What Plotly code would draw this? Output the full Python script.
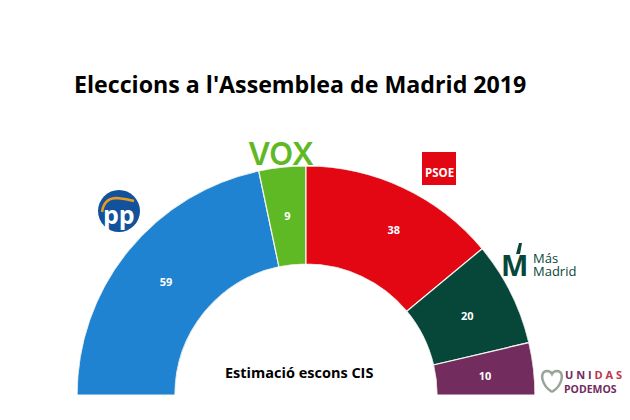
import plotly.graph_objects as go

parties = ["PP", "VOX", "PSOE", "Más Madrid", "Unidas Podemos"]
seats = [59, 9, 38, 20, 10]
colors = ["#1f83d1", "#5fb924", "#e30613", "#07473a", "#722c5e"]
title_text = "Eleccions a l'Assemblea de Madrid 2019"
subtitle_text = "Estimació escons CIS"

# the page keeps an 8px body margin, so the figure sits inside it
PAGE = 8
W = 614
H = 404
total = sum(seats)

widths = [s * 180 / total for s in seats]
mids = []
run = 0
for s in seats:
    mids.append((run + s / 2) * 180 / total)
    run += s

# the numbers are not quite centred in the reference
label_r = [0.49, 0.49, 0.56, 0.49, 0.5]
label_shift = [-0.5, 0, 3, 0.8, 0.9]


def px(x):
    return (x - PAGE) / W


def py(y):
    return 1 - (y - PAGE) / H


def label(x, y, text, size, color, bold=False, font="Open Sans", anchor="center", weight=None):
    if bold:
        text = "<b>" + text + "</b>"
    fig.add_annotation(x=px(x), y=py(y), xref="paper", yref="paper", text=text,
                       showarrow=False, xanchor=anchor, yanchor="middle",
                       borderpad=0, font=dict(size=size, color=color, family=font, weight=weight))


def path(d, fill=None, line=None, width=0):
    # d is a list of pixel points with svg commands in front
    out = ""
    for cmd, x, y in d:
        out += "%s %.4f %.4f " % (cmd, px(x), py(y))
    fig.add_shape(type="path", xref="paper", yref="paper", path=out + ("Z" if fill else ""),
                  fillcolor=fill, line=dict(color=line or "rgba(0,0,0,0)", width=width))


fig = go.Figure()

fig.add_trace(go.Barpolar(r=[1] * len(seats), theta=mids, width=widths,
                          marker=dict(color=colors, line=dict(color="#f4f4ee", width=1.2)),
                          hoverinfo="skip"))
fig.add_trace(go.Scatterpolar(r=label_r, theta=[m + d for m, d in zip(mids, label_shift)], mode="text",
                              text=["<b>%d</b>" % s for s in seats],
                              textfont=dict(size=11, color="white", family="Open Sans"),
                              hoverinfo="skip"))

fig.update_layout(
    width=W, height=H,
    margin=dict(l=0, r=0, t=0, b=0),
    paper_bgcolor="white",
    showlegend=False,
    polar=dict(
        domain=dict(x=[px(77), px(535)], y=[py(395), py(166)]),
        sector=[0, 180],
        hole=0.572,
        bgcolor="white",
        radialaxis=dict(range=[0, 1], visible=False),
        angularaxis=dict(direction="clockwise", rotation=180, visible=False),
    ),
)

label(299.5, 84, title_text, 23.2, "black", bold=True)
label(298.5, 372, subtitle_text, 14.5, "black", bold=True)

# PP logo
fig.add_shape(type="circle", xref="paper", yref="paper", x0=px(98), x1=px(140), y0=py(232), y1=py(190),
              fillcolor="#12519b", line=dict(width=0))
path([("M", 102, 212), ("Q", 104, 198), ("", 117, 198), ("Q", 127, 199), ("", 134, 201)], line="#ef9a1d", width=2.5)
label(119, 214, "pp", 25, "white", bold=True)

# VOX logo
label(281, 153, "VOX", 31, "#5fb924", font="Inter", weight=600)

# PSOE logo
fig.add_shape(type="rect", xref="paper", yref="paper", x0=px(422), x1=px(456), y0=py(185), y1=py(152),
              fillcolor="#e30613", line=dict(width=0))
label(439, 172, "PSOE", 11.5, "white", bold=True)

# Mas Madrid logo
label(514, 264, "M", 29, "#07473a", bold=True)
path([("M", 516, 254), ("L", 519, 243), ("L", 522, 243), ("L", 520, 254)], fill="#07473a")
label(532, 258, "Más", 13, "#07473a", anchor="left")
label(532, 271, "Madrid", 13, "#07473a", anchor="left")

# Unidas Podemos logo
path([("M", 552, 392), ("C", 541, 385), ("", 539, 371), ("", 547, 371),
      ("C", 549, 371), ("", 551, 372), ("", 552, 374),
      ("C", 553, 372), ("", 555, 371), ("", 557, 371),
      ("C", 565, 371), ("", 563, 385), ("", 552, 392)], line="#9aa39a", width=2.5)
label(564, 374, "U N I <span style='color:#c0344d'>D A S</span>", 11, "#722c5e", bold=True, anchor="left")
label(563, 389, "PODEMOS", 10.5, "#722c5e", bold=True, anchor="left")

fig.write_html("out.html")
